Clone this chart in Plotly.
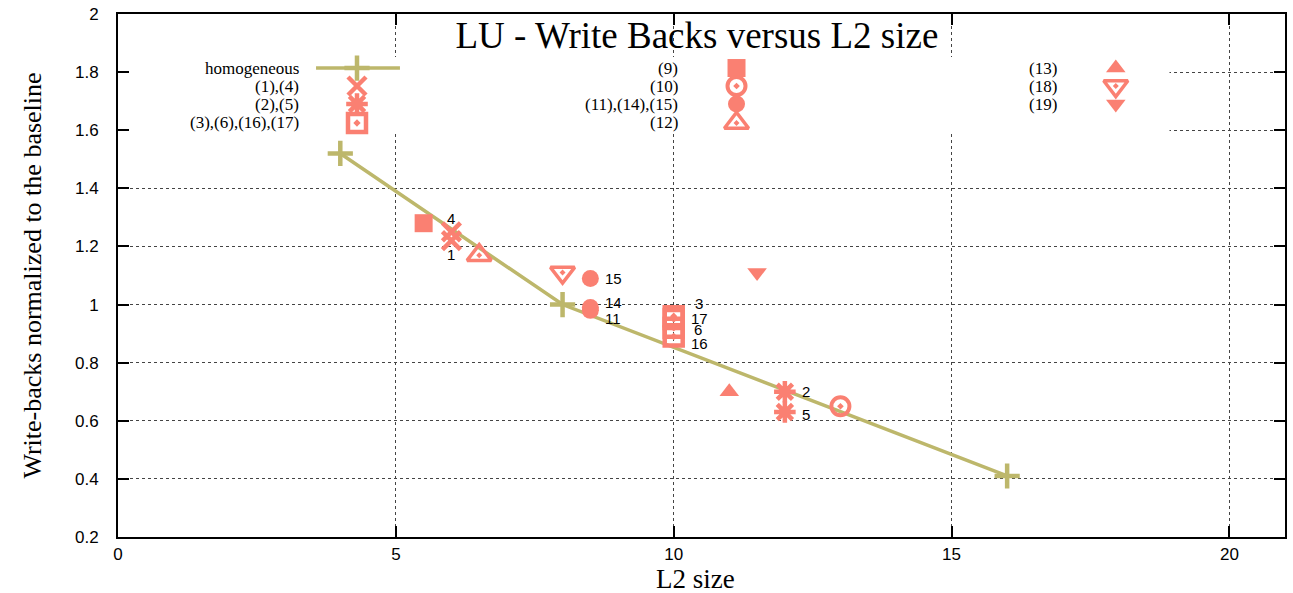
import plotly.graph_objects as go

# ---- data -------------------------------------------------------------
title_text = "LU - Write Backs versus L2 size"
x_title = "L2 size"
y_title = "Write-backs normalized to the baseline"

x_ticks = [0, 5, 10, 15, 20]
y_ticks = [0.2, 0.4, 0.6, 0.8, 1.0, 1.2, 1.4, 1.6, 1.8, 2.0]

homog_name = "homogeneous"
homog_x = [4, 8, 16]
homog_y = [1.52, 1.00, 0.41]

grp_1_4_x = [6, 6]
grp_1_4_y = [1.22, 1.25]
grp_1_4_lbl = ["1", "4"]

grp_2_5_x = [12, 12]
grp_2_5_y = [0.70, 0.63]
grp_2_5_lbl = ["2", "5"]

grp_3_6_16_17_x = [10, 10, 10, 10]
grp_3_6_16_17_y = [0.96, 0.92, 0.89, 0.95]
grp_3_6_16_17_lbl = ["3", "6", "16", "17"]

grp_9_x = [5.5]
grp_9_y = [1.28]

grp_10_x = [13]
grp_10_y = [0.65]

grp_11_14_15_x = [8.5, 8.5, 8.5]
grp_11_14_15_y = [0.98, 0.99, 1.09]
grp_11_14_15_lbl = ["11", "14", "15"]

grp_12_x = [6.5]
grp_12_y = [1.17]

grp_13_x = [11]
grp_13_y = [0.70]

grp_18_x = [8]
grp_18_y = [1.11]

grp_19_x = [11.5]
grp_19_y = [1.11]

# ---- styling ----------------------------------------------------------
SALMON = "#fa8072"
KHAKI = "#bdb76b"
SERIF = "Liberation Serif, Times New Roman, serif"
SANS = "Liberation Sans, Arial, sans-serif"

# label offsets (pixels) from the point each label belongs to
label_shift = {
    "1": (-6, -14), "4": (-6, 13),
    "2": (15, 0), "5": (15, -2),
    "3": (19, 13), "17": (15, 1), "6": (18, -2), "16": (15, -7),
    "11": (13, -8), "14": (13, 5), "15": (13, 0),
}

groups = [
    # name, xs, ys, labels, symbol, size, line width, key column, key row
    ("(1),(4)", grp_1_4_x, grp_1_4_y, grp_1_4_lbl, "x-thin-open", 18, 4.5, 0, 1),
    ("(2),(5)", grp_2_5_x, grp_2_5_y, grp_2_5_lbl, "asterisk-open", 18, 4.5, 0, 2),
    ("(3),(6),(16),(17)", grp_3_6_16_17_x, grp_3_6_16_17_y, grp_3_6_16_17_lbl,
     "square-open-dot", 18, 4.5, 0, 3),
    ("(9)", grp_9_x, grp_9_y, None, "square", 18, 0, 1, 0),
    ("(10)", grp_10_x, grp_10_y, None, "circle-open-dot", 18, 4, 1, 1),
    ("(11),(14),(15)", grp_11_14_15_x, grp_11_14_15_y, grp_11_14_15_lbl,
     "circle", 17, 0, 1, 2),
    ("(12)", grp_12_x, grp_12_y, None, "triangle-up-open-dot", 21, 3.5, 1, 3),
    ("(13)", grp_13_x, grp_13_y, None, "triangle-up", 17, 0, 2, 0),
    ("(18)", grp_18_x, grp_18_y, None, "triangle-down-open-dot", 21, 3.5, 2, 1),
    ("(19)", grp_19_x, grp_19_y, None, "triangle-down", 17, 0, 2, 2),
]

# key layout in fractions of the plot area
key_sym_x = [0.2048, 0.530, 0.855]
key_txt_x = [0.157, 0.482, 0.806]
key_row_y = [0.8967, 0.8623, 0.8279, 0.7916]
key_box_x = [0.002, 0.901]
key_box_y = [0.7725, 0.918]

fig = go.Figure()

# opaque key background on the overlay axes (hides the grid behind the key)
fig.add_trace(go.Scatter(
    x=[key_box_x[0], key_box_x[1], key_box_x[1], key_box_x[0], key_box_x[0]],
    y=[key_box_y[0], key_box_y[0], key_box_y[1], key_box_y[1], key_box_y[0]],
    mode="lines", fill="toself", fillcolor="white",
    line=dict(width=0, color="white"), xaxis="x2", yaxis="y2",
    showlegend=False, hoverinfo="skip"))

homog_marker = dict(symbol="cross-thin-open", size=18, color=KHAKI,
                    line=dict(color=KHAKI, width=4.5))

# homogeneous configurations
fig.add_trace(go.Scatter(
    x=homog_x, y=homog_y, mode="lines+markers",
    line=dict(color=KHAKI, width=3.5), marker=homog_marker,
    showlegend=False, hoverinfo="skip"))

annotations = []
key_font = dict(family=SERIF, size=17, color="black")

for name, xs, ys, lbls, sym, size, lw, col, row in groups:
    mk = dict(symbol=sym, size=size, color=SALMON)
    if lw:
        mk["line"] = dict(color=SALMON, width=lw)
    fig.add_trace(go.Scatter(x=xs, y=ys, mode="markers", marker=mk,
                             showlegend=False, hoverinfo="skip"))
    # key entry on the overlay axes
    fig.add_trace(go.Scatter(x=[key_sym_x[col]], y=[key_row_y[row]],
                             mode="markers", marker=mk, xaxis="x2", yaxis="y2",
                             showlegend=False, hoverinfo="skip"))
    annotations.append(dict(
        x=key_txt_x[col], y=key_row_y[row], xref="x domain", yref="y domain",
        text=name, showarrow=False, xanchor="right", yanchor="middle",
        font=key_font))
    if lbls:
        for xv, yv, lb in zip(xs, ys, lbls):
            dx, dy = label_shift[lb]
            annotations.append(dict(
                x=xv, y=yv, xref="x", yref="y", text=lb, showarrow=False,
                xanchor="left", yanchor="middle", xshift=dx, yshift=dy,
                font=dict(family=SANS, size=15, color="black")))

# homogeneous key entry: short line with a centred cross
fig.add_trace(go.Scatter(
    x=[0.1697, 0.2416], y=[key_row_y[0]] * 2,
    mode="lines", xaxis="x2", yaxis="y2",
    line=dict(color=KHAKI, width=3.5),
    showlegend=False, hoverinfo="skip"))
fig.add_trace(go.Scatter(
    x=[key_sym_x[0]], y=[key_row_y[0]],
    mode="markers", xaxis="x2", yaxis="y2", marker=homog_marker,
    showlegend=False, hoverinfo="skip"))
annotations.append(dict(
    x=key_txt_x[0], y=key_row_y[0], xref="x domain", yref="y domain",
    text=homog_name, showarrow=False, xanchor="right", yanchor="middle",
    font=key_font))

# x-axis title, placed just below the tick labels
annotations.append(dict(
    x=0.495, y=0, xref="x domain", yref="y domain", yshift=-42,
    text=x_title, showarrow=False, xanchor="center", yanchor="middle",
    font=dict(family=SERIF, size=27, color="black")))

axis_common = dict(
    showline=True, linecolor="black", linewidth=2, mirror="ticks",
    ticks="inside", ticklen=11, tickwidth=1.5, tickcolor="black",
    showgrid=True, gridcolor="#444444", griddash="dot", gridwidth=1,
    zeroline=False, automargin=False,
    tickfont=dict(family=SANS, size=17, color="black"),
)

fig.update_layout(
    width=1293, height=593,
    margin=dict(l=118, r=8, t=14, b=56),
    plot_bgcolor="white", paper_bgcolor="white",
    title=dict(text=title_text, x=0.539, y=1 - 35 / 593,
               xanchor="center", yanchor="middle",
               font=dict(family=SERIF, size=37, color="black")),
    xaxis=dict(range=[0, 21], tickvals=x_ticks,
               ticktext=[f"{v:g}" for v in x_ticks],
               ticklabelstandoff=1,
               **axis_common),
    yaxis=dict(range=[0.2, 2.0], tickvals=y_ticks,
               ticktext=[f"{v:g}" for v in y_ticks],
               title=dict(text=y_title, standoff=26,
                          font=dict(family=SERIF, size=26, color="black")),
               ticklabelstandoff=14,
               **axis_common),
    xaxis2=dict(overlaying="x", anchor="y2", range=[0, 1], visible=False),
    yaxis2=dict(overlaying="y", anchor="x2", range=[0, 1], visible=False),
    annotations=annotations,
    showlegend=False,
)

fig.write_html("out.html")
